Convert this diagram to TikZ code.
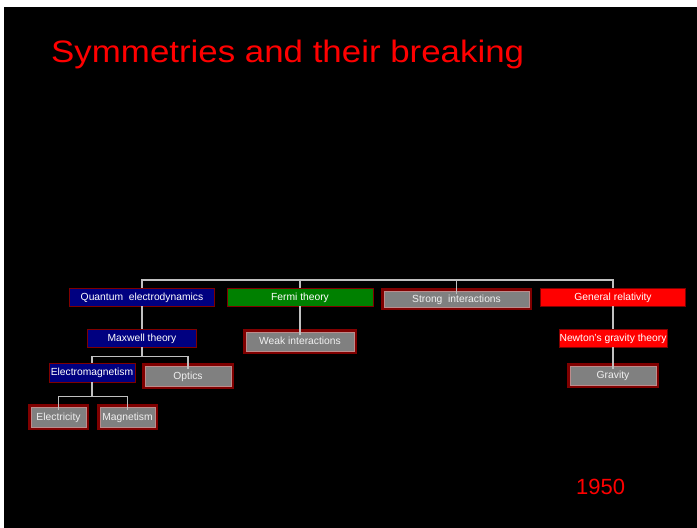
\documentclass[tikz,border=0pt]{standalone}
\usepackage{fontspec}
\setmainfont{Liberation Sans}
\usetikzlibrary{positioning}
\definecolor{slidenavy}{RGB}{0,0,128}
\definecolor{slidegreen}{RGB}{0,128,0}
\definecolor{slidered}{RGB}{255,0,0}
\definecolor{rimred}{RGB}{128,0,0}
\definecolor{boxgray}{RGB}{128,128,128}
\definecolor{innerrose}{RGB}{190,140,140}
\definecolor{linkgray}{RGB}{192,192,192}

\begin{document}
\begin{tikzpicture}[x=1pt, y=-1pt,
every node/.style={
    inner sep=0pt,
    align=center,
    font=\fontsize{10.3}{12}\selectfont,
    text height=8.6pt,
    text depth=2pt
},
theory/.style={draw=rimred, line width=0.8pt, text=white},
phenom/.style={fill=boxgray, draw=innerrose, line width=0.7pt, text=white!88!gray,
    preaction={draw=rimred, line width=6pt}},
link/.style={draw=linkgray, line width=1.2pt}]

  % slide background
  \useasboundingbox (0,0) rectangle (697,528);
  \fill[white] (0,0) rectangle (697,528);
  \fill[black] (4,7) rectangle (697,528);

  \node[anchor=base west, text=slidered, font=\fontsize{31}{36}\selectfont, text height=, text depth=]
    (title) at (51,62) {\scalebox{1.125}[1]{Symmetries and their breaking}};
  \node[anchor=base west, text=slidered, font=\fontsize{22}{26}\selectfont, text height=, text depth=]
    (year) at (576,494) {1950};

  % top row
  \node[theory, fill=slidenavy, minimum width=145pt, minimum height=18pt] (qed) at (142,297) {Quantum \ electrodynamics};
  \node[theory, fill=slidegreen, minimum width=146pt, minimum height=18pt] (fermi) at (300,297) {Fermi theory};
  \node[phenom, minimum width=145pt, minimum height=16pt] (strong) at (456.5,299) {Strong \ interactions};
  \node[theory, fill=slidered, minimum width=145pt, minimum height=18pt] (gr) at (613,297) {General relativity};

  % second row
  \node[theory, fill=slidenavy, minimum width=109pt, minimum height=18pt] (maxwell) at (142,338) {Maxwell theory};
  \node[phenom, minimum width=108pt, minimum height=19pt] (weak) at (300,341.5) {Weak interactions};
  \node[theory, fill=slidered, minimum width=108pt, minimum height=18pt] (newton) at (613,338) {Newton's gravity theory};

  % third row
  \node[theory, fill=slidenavy, minimum width=86pt, minimum height=19pt] (em) at (92,372.5) {Electromagnetism};
  \node[phenom, minimum width=86pt, minimum height=20pt] (optics) at (188,376) {Optics};
  \node[phenom, minimum width=86pt, minimum height=19pt] (gravity) at (613,375.5) {Gravity};

  % fourth row
  \node[phenom, minimum width=55pt, minimum height=20pt] (elec) at (58.5,417) {Electricity};
  \node[phenom, minimum width=55pt, minimum height=20pt] (magn) at (127.5,417) {Magnetism};

  % connectors
  \coordinate (bus) at (0,280);
  \draw[link] (qed.north) |- (bus -| gr.north) -- (gr.north);
  \draw[link] (fermi.north) -- (fermi.north |- bus);
  \draw[link] ([yshift=-3pt]strong.north) -- (strong.north |- bus);
  \draw[link] (qed.south) -- (maxwell.north);
  \draw[link] (maxwell.south) -- ++(0,9) coordinate (mxfork);
  \draw[link] (em.north) |- (mxfork) -| ([yshift=-3pt]optics.north);
  \draw[link] (em.south) -- ++(0,14) coordinate (emfork);
  \draw[link] ([yshift=-3pt]elec.north) |- (emfork) -| ([yshift=-3pt]magn.north);
  \draw[link] (fermi.south) -- ([yshift=-3pt]weak.north);
  \draw[link] (gr.south) -- (newton.north);
  \draw[link] (newton.south) -- ([yshift=-3pt]gravity.north);

\end{tikzpicture}
\end{document}
